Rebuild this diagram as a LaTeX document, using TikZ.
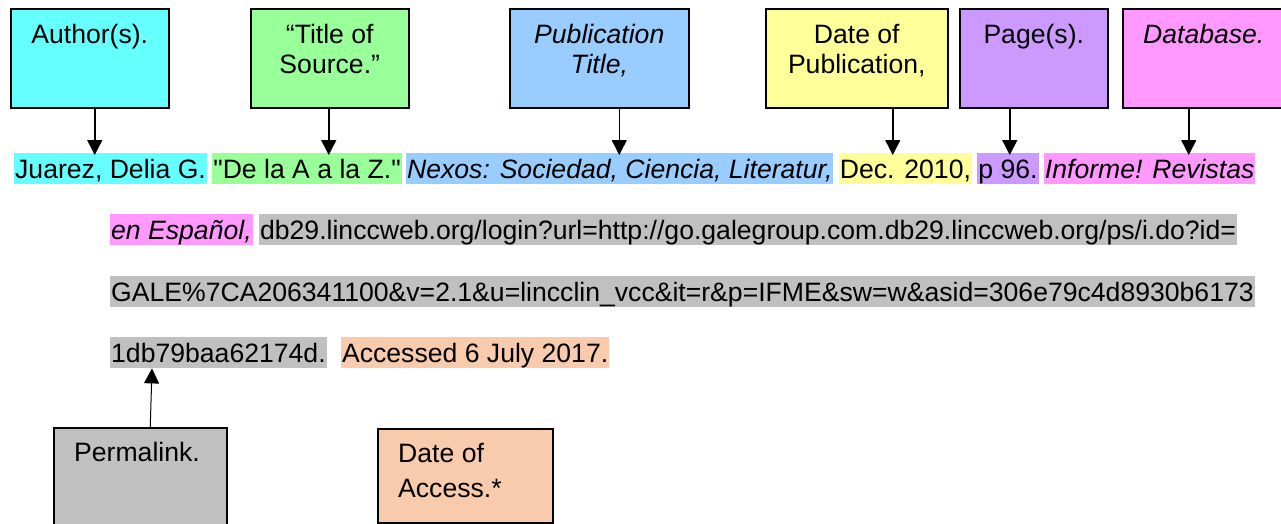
\documentclass[tikz,border=0pt]{standalone}
\usepackage{fontspec}
\newfontfamily\arialfont{Liberation Sans}
\usetikzlibrary{positioning,arrows.meta}

\definecolor{cyanhl}{HTML}{66FFFF}
\definecolor{greenhl}{HTML}{99FF99}
\definecolor{bluehl}{HTML}{99CCFF}
\definecolor{yellowhl}{HTML}{FFFF99}
\definecolor{purplehl}{HTML}{CC99FF}
\definecolor{pinkhl}{HTML}{FF99FF}
\definecolor{grayhl}{HTML}{C0C0C0}
\definecolor{peachhl}{HTML}{F8CBAD}

\tikzset{
	hl/.style={inner xsep=1pt, inner ysep=0pt, text height=25pt, text depth=6pt},
	topbox/.style={draw, line width=1.5pt, minimum height=99pt, anchor=north west, inner sep=0pt},
	botbox/.style={draw, line width=1.5pt, anchor=north west, inner sep=0pt},
	toplbl/.style={anchor=north, yshift=-9pt, inner sep=0pt, text height=#1, align=center},
	toplbl/.default=26pt,
	botlbl/.style={anchor=north west, xshift=21pt, yshift=-8pt, inner sep=0pt, text height=#1, align=left, font=\arialfont\fontsize{26.6}{35}\selectfont},
	botlbl/.default=26pt,
	arr/.style={-{Triangle[width=15pt,length=15pt]}, line width=1.5pt, shorten >=-2pt},
	thinarr/.style={-{Triangle[width=15pt,length=15pt]}, line width=1pt}
}

\begin{document}
\begin{tikzpicture}[x=1pt, y=-1pt, font=\arialfont\fontsize{26.6}{30}\selectfont]
				%%%%% START %%%%%
				\useasboundingbox (0,0) rectangle (1281,523);
				
				\node[topbox, fill=cyanhl, minimum width=158pt, label={[toplbl]north:Author(s).}] (author) at (10,8) {};
				\node[topbox, fill=greenhl, minimum width=158pt, label={[toplbl=56pt]north:{“Title of\\Source.”}}] (srctitle) at (250,8) {};
				\node[topbox, fill=bluehl, minimum width=179pt, label={[toplbl=56pt]north:{\textit{Publication}\\\textit{Title,}}}] (pubtitle) at (509,8) {};
				\node[topbox, fill=yellowhl, minimum width=182pt, label={[toplbl=56pt]north:{Date of\\Publication,}}] (pubdate) at (765,8) {};
				\node[topbox, fill=purplehl, minimum width=148pt, label={[toplbl]north:Page(s).}] (pages) at (959,8) {};
				\node[topbox, fill=pinkhl, minimum width=162pt, label={[toplbl]north:\textit{Database.}}] (dbase) at (1122,8) {};
				
				\node[hl, fill=cyanhl, anchor=north west] (juarez) at (14,153) {Juarez, Delia G.};
				\node[hl, fill=greenhl, right=5pt of juarez] (dela) {"De la A a la Z."};
				\node[hl, fill=bluehl, right=4pt of dela] (nexos) {\textit{Nexos: Sociedad, Ciencia, Literatur,}};
				\node[hl, fill=yellowhl, right=5pt of nexos] (dec) {Dec. 2010,};
				\node[hl, fill=purplehl, right=5pt of dec] (pnum) {p 96.};
				\node[hl, fill=pinkhl, right=5pt of pnum] (informe) {\textit{Informe! Revistas}};
				
				\node[hl, fill=pinkhl, anchor=north west] (espanol) at (110,214) {\textit{en Español,}};
				\node[hl, fill=grayhl, right=6pt of espanol] (url) {db29.linccweb.org/login?url=http://go.galegroup.com.db29.linccweb.org/ps/i.do?id=};
				\node[hl, fill=grayhl, anchor=north west] (urlmid) at (110,276) {GALE\%7CA206341100\&v=2.1\&u=lincclin\_vcc\&it=r\&p=IFME\&sw=w\&asid=306e79c4d8930b6173};
				\node[hl, fill=grayhl, anchor=north west] (urlend) at (110,337) {1db79baa62174d.};
				\node[hl, fill=peachhl, right=14pt of urlend] (accessed) {Accessed 6 July 2017.};
				
				\node[botbox, fill=grayhl, minimum width=173pt, minimum height=100pt, label={[botlbl]north west:Permalink.}] (perma) at (53,427) {};
				\node[botbox, fill=peachhl, minimum width=175pt, minimum height=94pt, label={[botlbl=61pt]north west:{Date of\\Access.*}}] (access) at (377,428) {};
				
				\draw[arr] ([xshift=5pt]author.south) -- ([xshift=5pt]author.south |- juarez.north);
				\draw[arr] ([xshift=-1pt]srctitle.south) -- ([xshift=-1pt]srctitle.south |- dela.north);
				\draw[arr] ([xshift=20pt]pubtitle.south) -- ([xshift=20pt]pubtitle.south |- nexos.north);
				\draw[arr] ([xshift=36pt]pubdate.south) -- ([xshift=36pt]pubdate.south |- dec.north);
				\draw[arr] ([xshift=-24pt]pages.south) -- ([xshift=-24pt]pages.south |- pnum.north);
				\draw[arr] ([xshift=-15pt]dbase.south) -- ([xshift=-15pt]dbase.south |- informe.north);
				
				\draw[thinarr] ([xshift=10pt]perma.north) -- ([xshift=42pt]urlend.south west);
				%%%%% END %%%%%
\end{tikzpicture}
\end{document}
